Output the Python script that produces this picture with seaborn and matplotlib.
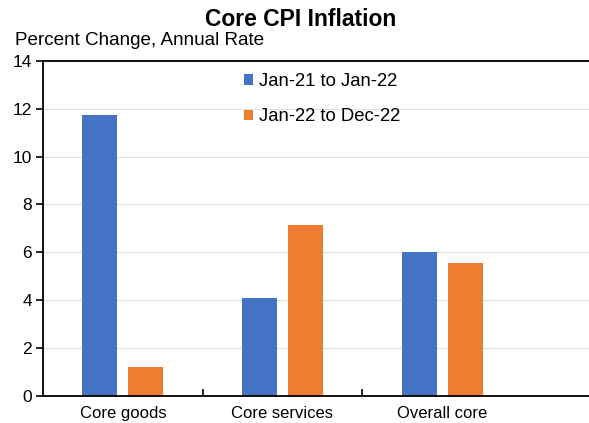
import pandas as pd
import seaborn as sns
import matplotlib.pyplot as plt
from matplotlib.ticker import FixedLocator

categories = ["Core goods", "Core services", "Overall core"]
periods = ["Jan-21 to Jan-22", "Jan-22 to Dec-22"]
jan21_jan22 = [11.75, 4.1, 6.0]
jan22_dec22 = [1.2, 7.15, 5.55]
colors = ["#4472C4", "#ED7D31"]


def set_config():
    sns.set_style("white")
    plt.rcParams["font.family"] = ["Liberation Sans", "DejaVu Sans"]
    plt.rcParams["text.color"] = "black"
    plt.rcParams["xtick.color"] = "black"
    plt.rcParams["ytick.color"] = "black"


def main():
    set_config()
    df = pd.DataFrame({
        "category": categories * 2,
        "period": [periods[0]] * 3 + [periods[1]] * 3,
        "value": jan21_jan22 + jan22_dec22,
    })

    fig = plt.figure(figsize=(5.89, 4.23), dpi=100)
    ax = fig.add_axes([0.073, 0.064, 0.927, 0.792])

    sns.barplot(data=df, x="category", y="value", hue="period", order=categories,
                hue_order=periods, palette=colors, width=0.577, gap=0.24,
                saturation=1, linewidth=0, ax=ax, zorder=3)

    ax.set_xlim(-0.5, 2.92)
    ax.set_ylim(0, 14)
    ax.set_yticks(range(0, 15, 2))
    ax.grid(axis="y", color="#e0e0e0", linewidth=0.8, zorder=0)
    ax.set_xlabel("")
    ax.set_ylabel("")

    for side in ["left", "bottom", "top"]:
        ax.spines[side].set_visible(True)
        ax.spines[side].set_color("black")
        ax.spines[side].set_linewidth(1.3)
        ax.spines[side].set_zorder(5)
    ax.spines["right"].set_visible(False)

    ax.tick_params(axis="y", left=True, direction="out", length=5, width=1.2,
                   labelsize=12.5, pad=3)
    ax.tick_params(axis="x", which="major", bottom=False, labelsize=12, pad=4)
    ax.xaxis.set_minor_locator(FixedLocator([0.5, 1.5]))
    ax.tick_params(axis="x", which="minor", bottom=True, direction="in",
                   length=5, width=1.2)

    leg = ax.legend(loc="upper left", bbox_to_anchor=(0.401, 0.845),
                    bbox_transform=fig.transFigure, frameon=False,
                    fontsize=13.3, handlelength=0.5, handleheight=0.5,
                    handletextpad=0.35, labelspacing=1.0, borderaxespad=0)
    for h in leg.legend_handles:
        h.set_edgecolor("none")

    fig.text(0.51, 0.955, "Core CPI Inflation", ha="center", va="center",
             fontsize=16.5, fontweight="bold")
    fig.text(0.025, 0.905, "Percent Change, Annual Rate", ha="left",
             va="center", fontsize=13.6)

    fig.savefig("out.png", dpi=100)


if __name__ == "__main__":
    main()
